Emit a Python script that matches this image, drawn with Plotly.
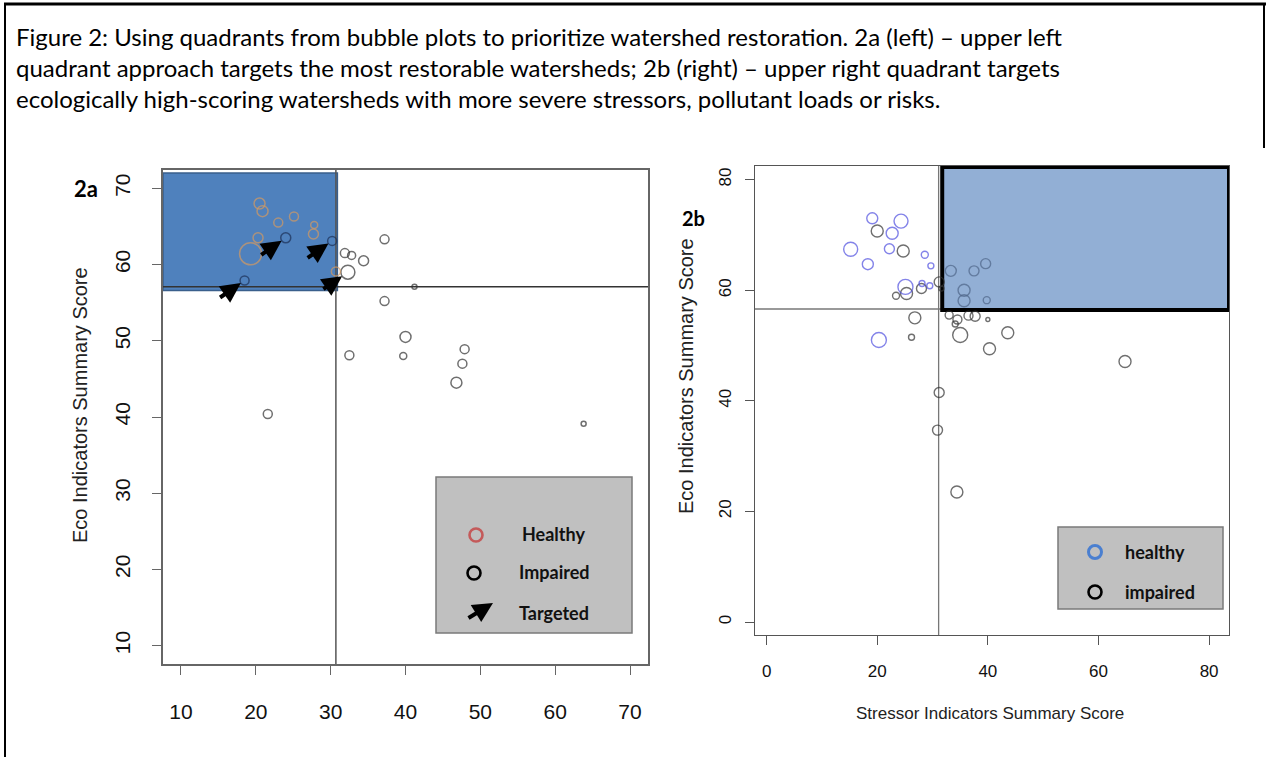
import plotly.graph_objects as go

W, H = 1270, 757

# ---------------- Figure 2a data ----------------
a_healthy_x = [20.5, 20.9, 23.0, 25.1, 27.8, 27.7, 20.3, 19.3, 30.7]
a_healthy_y = [68.0, 67.0, 65.5, 66.3, 65.2, 64.0, 63.5, 61.4, 59.1]
a_healthy_size = [11, 11, 9, 9, 7, 10, 10, 22, 9]

a_impaired_x = [24.0, 30.2, 18.5, 31.9, 32.8, 34.4, 37.2, 32.3, 41.2, 37.2,
                40.0, 32.5, 39.7, 47.9, 47.6, 46.8, 63.8, 21.6]
a_impaired_y = [63.5, 63.1, 57.9, 61.5, 61.2, 60.5, 63.3, 59.0, 57.1, 55.2,
                50.5, 48.1, 48.0, 48.9, 47.0, 44.5, 39.1, 40.4]
a_impaired_size = [10, 9, 9, 9, 8, 10, 9, 14, 5, 9, 11, 9, 7, 9, 9, 11, 5, 9]
a_targeted = [0, 1, 2, 7]          # indices of impaired watersheds that are targeted

a_stress_cut = 30.7
a_eco_cut = 57.1
a_ticks = [10, 20, 30, 40, 50, 60, 70]
a_range = [7.6, 72.4]

# ---------------- Figure 2b data ----------------
b_healthy_x = [19.1, 24.3, 22.7, 15.2, 22.2, 18.3, 28.6, 29.7, 25.1, 28.1, 29.5, 20.3]
b_healthy_y = [73.0, 72.5, 70.3, 67.4, 67.5, 64.7, 66.4, 64.4, 60.6, 61.2, 60.8, 51.0]
b_healthy_size = [11, 14, 12, 14, 10, 11, 7, 6, 15, 6, 6, 15]

b_impaired_x = [20.0, 24.7, 25.3, 23.4, 28.0, 31.2, 31.6, 33.3, 37.5, 39.6,
                35.7, 35.7, 39.8, 26.8, 26.2, 33.0, 34.5, 34.1, 36.5, 37.7,
                40.0, 35.0, 43.6, 40.3, 64.8, 31.2, 30.9, 34.4]
b_impaired_y = [70.7, 67.1, 59.4, 59.0, 60.3, 61.5, 60.3, 63.5, 63.5, 64.8,
                60.0, 58.1, 58.2, 55.0, 51.5, 55.5, 54.7, 53.9, 55.4, 55.3,
                54.7, 51.9, 52.3, 49.4, 47.1, 41.5, 34.7, 23.5]
b_impaired_size = [12, 12, 12, 7, 10, 10, 5, 11, 10, 10,
                   12, 12, 7, 12, 6, 8, 9, 6, 9, 10,
                   4, 15, 12, 12, 12, 10, 10, 12]

b_stress_cut = 31.1
b_eco_cut = 56.6
b_ticks = [0, 20, 40, 60, 80]
b_xrange = [-2.1, 83.6]
b_yrange = [-2.35, 82.46]

# ---------------- helpers ----------------
def px(p):
    return p / W

def py(p):
    return 1 - p / H

a_rect = dict(x0=a_range[0], x1=a_stress_cut + 0.2, y0=a_eco_cut - 0.5, y1=72.0)
b_rect = dict(x0=b_stress_cut + 0.65, x1=b_xrange[1], y0=b_eco_cut - 0.2, y1=82.3)

def inside(x, y, r):
    return r["x0"] <= x <= r["x1"] and r["y0"] <= y <= r["y1"]

fig = go.Figure()

# 2a traces
fig.add_trace(go.Scatter(
    x=a_impaired_x, y=a_impaired_y, mode="markers", xaxis="x", yaxis="y",
    marker=dict(size=a_impaired_size, color="rgba(0,0,0,0)",
                line=dict(width=1.5, color=["#1d3158" if inside(x, y, a_rect) else "#333333"
                                             for x, y in zip(a_impaired_x, a_impaired_y)])),
    showlegend=False, hoverinfo="x+y"))
fig.add_trace(go.Scatter(
    x=a_healthy_x, y=a_healthy_y, mode="markers", xaxis="x", yaxis="y",
    marker=dict(size=a_healthy_size, color="rgba(0,0,0,0)",
                line=dict(width=1.5, color="#d39a62")),
    showlegend=False, hoverinfo="x+y"))

# 2b traces
fig.add_trace(go.Scatter(
    x=b_impaired_x, y=b_impaired_y, mode="markers", xaxis="x2", yaxis="y2",
    marker=dict(size=b_impaired_size, color="rgba(0,0,0,0)",
                line=dict(width=1.4, color=["#4f6689" if inside(x, y, b_rect) else "#333333"
                                             for x, y in zip(b_impaired_x, b_impaired_y)])),
    showlegend=False, hoverinfo="x+y"))
fig.add_trace(go.Scatter(
    x=b_healthy_x, y=b_healthy_y, mode="markers", xaxis="x2", yaxis="y2",
    marker=dict(size=b_healthy_size, color="rgba(0,0,0,0)",
                line=dict(width=1.4, color="#5050e0")),
    showlegend=False, hoverinfo="x+y"))

shapes = []
# 2a quadrant rectangle and lines
shapes.append(dict(type="rect", xref="x", yref="y", **a_rect,
                   fillcolor="#4f81bd", line=dict(color="#3a5f8c", width=1.5), layer="below"))
shapes.append(dict(type="line", xref="x", yref="y", x0=a_stress_cut, x1=a_stress_cut,
                   y0=a_range[0], y1=a_range[1], line=dict(color="#555555", width=1.5), layer="below"))
shapes.append(dict(type="line", xref="x", yref="y", x0=a_range[0], x1=a_range[1],
                   y0=a_eco_cut, y1=a_eco_cut, line=dict(color="#333333", width=1.5), layer="below"))
# 2b quadrant lines and rectangle
shapes.append(dict(type="line", xref="x2", yref="y2", x0=b_stress_cut, x1=b_stress_cut,
                   y0=b_yrange[0], y1=b_yrange[1], line=dict(color="#777777", width=1.3), layer="below"))
shapes.append(dict(type="line", xref="x2", yref="y2", x0=b_xrange[0], x1=b_xrange[1],
                   y0=b_eco_cut, y1=b_eco_cut, line=dict(color="#777777", width=1.3), layer="below"))
shapes.append(dict(type="rect", xref="x2", yref="y2", **b_rect,
                   fillcolor="#92afd5", line=dict(color="#000000", width=4), layer="below"))

# outer figure frame
shapes.append(dict(type="line", xref="paper", yref="paper", x0=px(4), x1=px(1266),
                   y0=py(4), y1=py(4), line=dict(color="black", width=3)))
shapes.append(dict(type="line", xref="paper", yref="paper", x0=px(5), x1=px(5),
                   y0=py(4), y1=py(757), line=dict(color="black", width=2)))
shapes.append(dict(type="line", xref="paper", yref="paper", x0=px(1264), x1=px(1264),
                   y0=py(4), y1=py(148), line=dict(color="black", width=2)))

# legend boxes
shapes.append(dict(type="rect", xref="paper", yref="paper", x0=px(436), x1=px(632),
                   y0=py(633), y1=py(477), fillcolor="#c0c0c0", line=dict(color="#7a7a7a", width=1.5)))
shapes.append(dict(type="rect", xref="paper", yref="paper", x0=px(1058), x1=px(1223),
                   y0=py(609), y1=py(527), fillcolor="#c0c0c0", line=dict(color="#7a7a7a", width=1.5)))

def leg_circle(cx, cy, r, color, w):
    return dict(type="circle", xref="paper", yref="paper", x0=px(cx - r), x1=px(cx + r),
                y0=py(cy + r), y1=py(cy - r), line=dict(color=color, width=w))

shapes.append(leg_circle(476, 535, 6.5, "#c45a5a", 2.6))
shapes.append(leg_circle(474, 573, 6.5, "#000000", 2.6))
shapes.append(leg_circle(1095, 552, 6.5, "#4a7fd0", 3))
shapes.append(leg_circle(1095, 592, 6.5, "#000000", 2.6))

annotations = []
# caption (one multi-line text block)
caption = [
    "Figure 2: Using quadrants from bubble plots to prioritize watershed restoration. 2a (left) \u2013 upper left",
    "quadrant approach targets the most restorable watersheds; 2b (right) \u2013 upper right quadrant targets",
    "ecologically high-scoring watersheds with more severe stressors, pollutant loads or risks.",
]
annotations.append(dict(xref="paper", yref="paper", x=px(14), y=py(20), xanchor="left",
                        yanchor="top", align="left", showarrow=False, text="<br>".join(caption),
                        font=dict(family="Lato", size=24, color="black")))

# targeted arrows (2a)
for i in a_targeted:
    annotations.append(dict(xref="x", yref="y", x=a_impaired_x[i], y=a_impaired_y[i],
                            ax=-26, ay=18, axref="pixel", ayref="pixel", text="",
                            showarrow=True, arrowhead=2, arrowsize=1.0, arrowwidth=4,
                            arrowcolor="black", standoff=a_impaired_size[i] / 2))

# legend arrow and texts
annotations.append(dict(xref="paper", yref="paper", x=px(493), y=py(603), ax=-26, ay=16,
                        text="", showarrow=True, arrowhead=2, arrowsize=1.0, arrowwidth=4,
                        arrowcolor="black"))
leg_font = dict(family="Lato", size=18, color="#111111")
for txt, x, y in [("<b>Healthy</b>", 520, 534), ("<b>Impaired</b>", 517, 572), ("<b>Targeted</b>", 517, 613),
                  ("<b>healthy</b>", 1123, 552), ("<b>impaired</b>", 1123, 592)]:
    annotations.append(dict(xref="paper", yref="paper", x=px(x), y=py(y), xanchor="left",
                            yanchor="middle", showarrow=False, text=txt, font=leg_font))

# panel labels
annotations.append(dict(xref="paper", yref="paper", x=px(86), y=py(189), xanchor="center",
                        yanchor="middle", showarrow=False,
                        text="<b>2a</b>", font=dict(family="Lato", size=22, color="black")))
annotations.append(dict(xref="paper", yref="paper", x=px(693), y=py(218), xanchor="center",
                        yanchor="middle", showarrow=False,
                        text="<b>2b</b>", font=dict(family="Lato", size=20, color="black")))

# axis titles
annotations.append(dict(xref="paper", yref="paper", x=px(80), y=py(405), xanchor="center",
                        yanchor="middle", showarrow=False,
                        textangle=-90, text="Eco Indicators Summary Score",
                        font=dict(family="Liberation Sans", size=20, color="#222222")))
annotations.append(dict(xref="paper", yref="paper", x=px(686), y=py(376), xanchor="center",
                        yanchor="middle", showarrow=False,
                        textangle=-90, text="Eco Indicators Summary Score",
                        font=dict(family="Liberation Sans", size=20, color="#222222")))
annotations.append(dict(xref="paper", yref="paper", x=px(990), y=py(713), xanchor="center",
                        yanchor="middle", showarrow=False,
                        text="Stressor Indicators Summary Score",
                        font=dict(family="Liberation Sans", size=17, color="#222222")))

axis_common = dict(showgrid=False, zeroline=False, showline=True, mirror=True,
                   ticks="outside", ticklen=9, tickwidth=1.3)

fig.update_layout(
    width=W, height=H, margin=dict(l=0, r=0, t=0, b=0),
    paper_bgcolor="white", plot_bgcolor="white",
    xaxis=dict(domain=[px(163), px(648)], range=a_range, tickvals=a_ticks,
               linecolor="#666666", linewidth=1.5, tickcolor="#666666",
               tickfont=dict(family="Liberation Sans", size=21, color="#111111"),
               ticklabelstandoff=19, anchor="y", **axis_common),
    yaxis=dict(domain=[py(664), py(170)], range=a_range, tickvals=a_ticks,
               linecolor="#666666", linewidth=1.5, tickcolor="#666666", tickangle=-90,
               tickfont=dict(family="Liberation Sans", size=21, color="#111111"),
               ticklabelstandoff=14, anchor="x", **axis_common),
    xaxis2=dict(domain=[px(755), px(1229)], range=b_xrange, tickvals=b_ticks,
                linecolor="#555555", linewidth=1.2, tickcolor="#555555",
                tickfont=dict(family="Liberation Sans", size=17, color="#111111"),
                ticklabelstandoff=11, anchor="y2", **axis_common),
    yaxis2=dict(domain=[py(635), py(166)], range=b_yrange, tickvals=b_ticks,
                linecolor="#555555", linewidth=1.2, tickcolor="#555555", tickangle=-90,
                tickfont=dict(family="Liberation Sans", size=17, color="#111111"),
                ticklabelstandoff=7, anchor="x2", **axis_common),
    shapes=shapes, annotations=annotations,
)

fig.write_html("out.html", config={"displayModeBar": False},
               post_script="document.body.style.margin='0px';")
